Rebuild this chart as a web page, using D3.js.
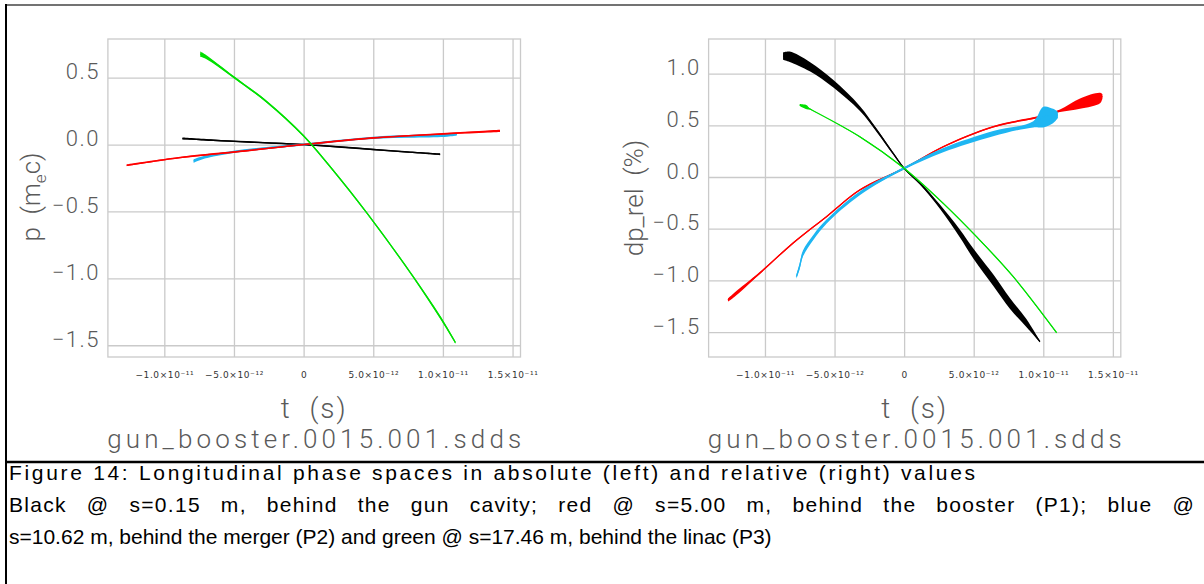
<!DOCTYPE html>
<html>
<head>
<meta charset="utf-8">
<script src="https://cdn.jsdelivr.net/npm/d3@7"></script>
<style>
  body { margin: 0; background: #fff; }
  svg { display: block; }
</style>
</head>
<body>
<svg width="1204" height="584"></svg>
<script>
// time in ps, shared by both plots
const tDomain = [-14.05, 15.57];
const tTicks = [-10, -5, 0, 5, 10, 15];
const tTickLabels = ["−1.0×10⁻¹¹", "−5.0×10⁻¹²", "0", "5.0×10⁻¹²", "1.0×10⁻¹¹", "1.5×10⁻¹¹"];

// left plot: p (m_e c)
const pDomain = [-1.588, 0.789];
const pTicks = [-1.5, -1.0, -0.5, 0.0, 0.5];
const pTickLabels = ["−1.5", "−1.0", "−0.5", "0.0", "0.5"];

const absBlackT = [-8.7, -6.5, -4.1, -2.0, 0, 2.5, 5.0, 7.5, 9.8];
const absBlackP = [0.045, 0.032, 0.020, 0.010, 0.0, -0.017, -0.037, -0.056, -0.073];
const absBlackW = [0.007, 0.006, 0.006, 0.006, 0.006, 0.006, 0.006, 0.006, 0.007];

const absRedT = [-12.7, -8.86, -4.0, 0, 5.0, 10.0, 14.1];
const absRedP = [-0.155, -0.097, -0.045, 0.0, 0.05, 0.08, 0.102];
const absRedW = [0.007, 0.006, 0.006, 0.006, 0.006, 0.007, 0.009];

const absBlueT = [-7.9, -7.3, -5.04, -2.5, 0, 5.0, 10.3, 11.0];
const absBlueP = [-0.123, -0.10, -0.055, -0.025, 0.0, 0.05, 0.07, 0.077];
const absBlueW = [0.013, 0.011, 0.009, 0.008, 0.007, 0.008, 0.012, 0.01];

const absGreenT = [-7.42, -7.0, -5.04, -2.64, 0, 2.02, 4.58, 7.88, 9.80, 10.90];
const absGreenP = [0.676, 0.655, 0.506, 0.319, 0.065, -0.18, -0.517, -0.99, -1.29, -1.48];
const absGreenW = [0.02, 0.015, 0.008, 0.008, 0.008, 0.008, 0.008, 0.009, 0.012, 0.008];

// right plot: dp_rel (%)
const dpDomain = [-1.741, 1.335];
const dpTicks = [-1.5, -1.0, -0.5, 0.0, 0.5, 1.0];
const dpTickLabels = ["−1.5", "−1.0", "−0.5", "0.0", "0.5", "1.0"];

const relBlackT = [-8.7, -8.22, -6.78, -5.06, -3.19, -1.99, -0.79, 0, 1.13, 2.57, 4.0, 4.96, 6.4, 7.6, 8.8, 9.76];
const relBlackP = [1.17, 1.163, 1.067, 0.899, 0.664, 0.455, 0.229, 0.084, -0.061, -0.287, -0.545, -0.738, -0.996, -1.222, -1.415, -1.593];
const relBlackW = [0.035, 0.05, 0.045, 0.036, 0.024, 0.016, 0.011, 0.008, 0.012, 0.02, 0.038, 0.048, 0.055, 0.052, 0.038, 0.006];

const relRedT = [-12.66, -12.2, -10.38, -7.99, -5.58, -3.19, 0, 2.81, 6.4, 10.0, 11.2, 12.64, 14.08, 14.25];
const relRedP = [-1.19, -1.14, -0.93, -0.64, -0.384, -0.126, 0.084, 0.293, 0.486, 0.59, 0.64, 0.71, 0.764, 0.78];
const relRedW = [0.015, 0.02, 0.01, 0.008, 0.008, 0.008, 0.008, 0.008, 0.008, 0.01, 0.012, 0.05, 0.05, 0.02];

const relBlueT = [-7.74, -7.5, -7.27, -6.5, -5.58, -3.19, 0, 2.81, 6.4, 9.28, 10.0, 10.7, 11.05];
const relBlueP = [-0.964, -0.86, -0.74, -0.58, -0.432, -0.158, 0.084, 0.26, 0.42, 0.51, 0.58, 0.59, 0.60];
const relBlueW = [0.02, 0.03, 0.03, 0.025, 0.02, 0.018, 0.012, 0.02, 0.025, 0.03, 0.1, 0.07, 0.03];

const relGreenT = [-7.5, -7.0, -6.8, -3.19, 0, 2.81, 5.2, 7.84, 10.96];
const relGreenP = [0.696, 0.675, 0.66, 0.39, 0.084, -0.255, -0.577, -0.964, -1.506];
const relGreenW = [0.01, 0.02, 0.008, 0.006, 0.006, 0.006, 0.006, 0.006, 0.006];

const caption = [
  "Figure 14: Longitudinal phase spaces in absolute (left) and relative (right) values",
  "Black @ s=0.15 m, behind the gun cavity; red @ s=5.00 m, behind the booster (P1); blue @",
  "s=10.62 m, behind the merger (P2) and green @ s=17.46 m, behind the linac (P3)"
];

const svg = d3.select('svg');
const plotTop = 39, plotBottom = 357;
const gridCol = '#cacaca';
const labelFont = 'Roboto, "DejaVu Sans", sans-serif';
const labelCol = '#5a5a5a';

function drawPanel(o) {
  const x = d3.scaleLinear().domain(tDomain).range([o.left, o.right]);
  const y = d3.scaleLinear().domain(o.yDomain).range([plotBottom, plotTop]);
  const g = svg.append('g');

  g.append('rect')
    .attr('x', o.left).attr('y', plotTop)
    .attr('width', o.right - o.left).attr('height', plotBottom - plotTop)
    .attr('fill', 'none').attr('stroke', gridCol).attr('stroke-width', 1.3);

  const gx = g.append('g').attr('transform', `translate(0,${plotBottom})`)
    .call(d3.axisBottom(x).tickValues(tTicks).tickSize(-(plotBottom - plotTop))
      .tickFormat((d, i) => tTickLabels[i]));
  gx.select('.domain').remove();
  gx.selectAll('line').attr('stroke', gridCol).attr('stroke-width', 1.3);
  gx.selectAll('text')
    .attr('y', 21).attr('dy', 0)
    .attr('fill', '#333')
    .style('font-family', '"DejaVu Sans", sans-serif')
    .style('font-size', '9px')
    .style('letter-spacing', '0.6px');

  const gy = g.append('g').attr('transform', `translate(${o.left},0)`)
    .call(d3.axisLeft(y).tickValues(o.yTicks).tickSize(-(o.right - o.left))
      .tickFormat((d, i) => o.yTickLabels[i]));
  gy.select('.domain').remove();
  gy.selectAll('line').attr('stroke', gridCol).attr('stroke-width', 1.3);
  gy.selectAll('text')
    .attr('x', -8).attr('dy', 0).attr('y', 1)
    .attr('fill', labelCol)
    .style('font-family', labelFont)
    .style('font-weight', 300)
    .style('font-size', '22px')
    .style('letter-spacing', '1.5px');

  const clip = 'clip' + o.id;
  svg.append('clipPath').attr('id', clip).append('rect')
    .attr('x', o.left).attr('y', plotTop).attr('width', o.right - o.left).attr('height', plotBottom - plotTop);
  const plot = g.append('g').attr('clip-path', `url(#${clip})`);

  o.series.forEach(s => {
    const idx = d3.range(s.t.length);
    const area = d3.area()
      .x(i => x(s.t[i]))
      .y0(i => y(s.p[i] - s.w[i]))
      .y1(i => y(s.p[i] + s.w[i]))
      .curve(d3.curveCatmullRom);
    const line = d3.line()
      .x(i => x(s.t[i]))
      .y(i => y(s.p[i]))
      .curve(d3.curveCatmullRom);
    plot.append('path').attr('d', area(idx)).attr('fill', s.color);
    plot.append('path').attr('d', line(idx)).attr('fill', 'none')
      .attr('stroke', s.color).attr('stroke-width', 1.3);
  });

  const cx = (o.left + o.right) / 2;
  g.append('text').attr('x', cx).attr('y', 418)
    .attr('text-anchor', 'middle').attr('fill', labelCol)
    .style('font-family', labelFont).style('font-weight', 300)
    .style('font-size', '28px').style('white-space', 'pre')
    .style('letter-spacing', '2px')
    .text('t  (s)');
  g.append('text').attr('x', cx).attr('y', 448)
    .attr('text-anchor', 'middle').attr('fill', labelCol)
    .attr('textLength', 414).attr('lengthAdjust', 'spacing')
    .style('font-family', labelFont).style('font-weight', 300)
    .style('font-size', '26px')
    .text('gun_booster.0015.001.sdds');

  const yt = g.append('text')
    .attr('transform', `translate(${o.titleX},${o.titleY}) rotate(-90)`)
    .attr('text-anchor', 'middle').attr('fill', labelCol)
    .style('font-family', labelFont).style('font-weight', 300)
    .style('font-size', '26px').style('white-space', 'pre');
  o.title(yt);
}

drawPanel({
  id: 'L', left: 107.9, right: 520.5,
  yDomain: pDomain, yTicks: pTicks, yTickLabels: pTickLabels,
  titleX: 40, titleY: 197,
  title: t => {
    t.append('tspan').text('p  (m');
    t.append('tspan').attr('dy', 6).style('font-size', '17px').text('e');
    t.append('tspan').attr('dy', -6).text('c)');
  },
  series: [
    { t: absBlackT, p: absBlackP, w: absBlackW, color: '#000' },
    { t: absBlueT, p: absBlueP, w: absBlueW, color: '#1fb6f2' },
    { t: absRedT, p: absRedP, w: absRedW, color: '#ff0000' },
    { t: absGreenT, p: absGreenP, w: absGreenW, color: '#00e000' }
  ]
});

drawPanel({
  id: 'R', left: 708.6, right: 1120.8,
  yDomain: dpDomain, yTicks: dpTicks, yTickLabels: dpTickLabels,
  titleX: 643, titleY: 198,
  title: t => t.text('dp_rel  (%)'),
  series: [
    { t: relBlackT, p: relBlackP, w: relBlackW, color: '#000' },
    { t: relRedT, p: relRedP, w: relRedW, color: '#ff0000' },
    { t: relBlueT, p: relBlueP, w: relBlueW, color: '#1fb6f2' },
    { t: relGreenT, p: relGreenP, w: relGreenW, color: '#00e000' }
  ]
});

// table borders
svg.append('line').attr('x1', 5).attr('x2', 1204).attr('y1', 5).attr('y2', 5)
  .attr('stroke', '#444').attr('stroke-width', 1.5);
svg.append('line').attr('x1', 6).attr('x2', 6).attr('y1', 4).attr('y2', 584)
  .attr('stroke', '#000').attr('stroke-width', 2);
svg.append('line').attr('x1', 5).attr('x2', 1204).attr('y1', 462).attr('y2', 462)
  .attr('stroke', '#000').attr('stroke-width', 2.5);

// caption: line 1 spread a little, line 2 justified to the cell edge
const capEnd = [975, 1195, null];
const capLetter = [0, 1.3, 0];
svg.selectAll('text.cap').data(caption).enter()
  .append('text')
  .attr('class', 'cap')
  .attr('x', 9)
  .attr('y', (d, i) => 480 + i * 32)
  .attr('fill', '#000')
  .style('font-family', '"Liberation Sans", Arial, sans-serif')
  .style('font-size', '21px')
  .style('letter-spacing', (d, i) => capLetter[i] + 'px')
  .text(d => d)
  .each(function (d, i) {
    if (capEnd[i] == null) return;
    const natural = this.getComputedTextLength();
    const gaps = d.split(' ').length - 1;
    if (i === 1) {
      d3.select(this).style('word-spacing', Math.max(0, (capEnd[i] - 9 - natural) / gaps) + 'px');
    } else {
      d3.select(this).attr('textLength', capEnd[i] - 9).attr('lengthAdjust', 'spacing');
    }
  });
</script>
</body>
</html>
